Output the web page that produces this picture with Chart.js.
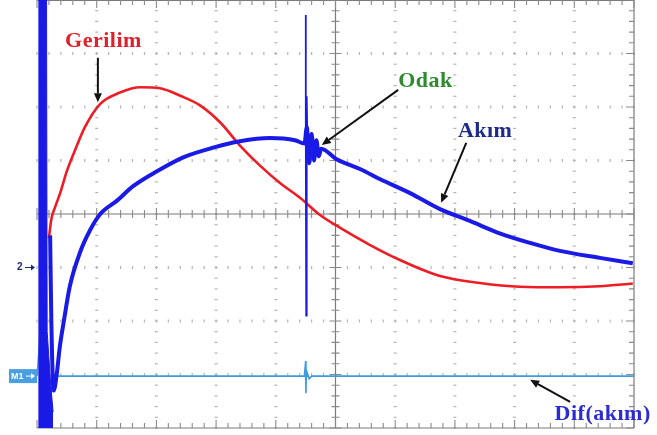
<!DOCTYPE html>
<html><head><meta charset="utf-8">
<script src="https://cdn.jsdelivr.net/npm/chart.js@4/dist/chart.umd.min.js"></script>
<style>html,body{margin:0;padding:0;background:#fff;}#wrap{width:657px;height:435px;}</style>
</head><body><div id="wrap"><canvas id="c" width="657" height="435"></canvas></div>
<script>
// Horizontal position in screen divisions (0..10), vertical in divisions (-4..4)
const gerilimX = [0.20,0.24,0.30,0.385,0.50,0.64,0.80,1.06,1.39,1.73,2.06,2.40,2.73,3.07,3.40,3.74,4.07,4.41,4.74,5.08,5.58,6.08,6.75,7.42,8.09,8.76,9.43,9.98];
const gerilimY = [-0.45,-0.10,0.12,0.38,0.80,1.20,1.62,2.06,2.27,2.37,2.35,2.21,2.03,1.71,1.28,0.90,0.58,0.30,-0.02,-0.26,-0.58,-0.86,-1.16,-1.29,-1.36,-1.37,-1.35,-1.30];

const akimX = [0.22,0.24,0.28,0.33,0.38,0.45,0.55,0.72,0.89,1.06,1.34,1.61,2.01,2.45,2.95,3.40,3.90,4.32,4.48,4.52,4.56,4.60,4.64,4.68,4.72,4.76,5.01,5.41,5.75,6.25,6.75,7.25,7.75,8.26,8.76,9.43,9.98];
const akimY = [-0.40,-2.00,-3.30,-3.00,-2.50,-2.00,-1.35,-0.72,-0.30,0.00,0.25,0.52,0.80,1.06,1.24,1.36,1.42,1.38,1.32,1.62,0.95,1.50,1.00,1.38,1.08,1.22,1.03,0.84,0.65,0.39,0.09,-0.13,-0.36,-0.54,-0.69,-0.82,-0.92];

// focus (Odak) discharge spike on the current channel
const spikeX = [4.49,4.500,4.505,4.510,4.515,4.520,4.530];
const spikeY = [1.32,3.72,1.40,-1.90,1.10,2.20,1.30];

// start-up burst envelope of the current channel (top edge, filled down to the screen bottom)
const burstX = [0.02,0.16,0.17,0.20,0.23,0.27];
const burstY = [4.1,4.1,-2.2,-2.7,-3.2,-3.7];
const burstFloor = -4.1;

const difX = [0.00,0.05,0.10,0.15,0.20,0.27,4.48,4.50,4.505,4.51,4.52,4.56,4.60,10.0];
const difY = [-3.03,-2.3,-3.8,-2.5,-3.7,-3.03,-3.03,-2.75,-3.35,-3.03,-2.95,-3.08,-3.03,-3.03];

const labels = ["Gerilim","Odak","Akım","Dif(akım)"];
const labelX = [0.47,6.05,7.05,8.67];
const labelY = [3.12,2.37,1.44,-3.85];
const labelColors = ["#e0202a","#2e8b2e","#1c2a8c","#2b2bd6"];
// arrows: from (x1,y1) to head (x2,y2)
const arrowX1 = [1.02,6.05,7.19,8.93];
const arrowY1 = [2.92,2.32,1.33,-3.51];
const arrowX2 = [1.02,4.77,6.77,8.26];
const arrowY2 = [2.09,1.29,0.21,-3.10];

const xMajors = [0,1,2,3,4,5,6,7,8,9,10];
const yMajors = [-4,-3,-2,-1,0,1,2,3,4];

function pts(xs, ys){ return xs.map((x,i)=>({x:x,y:ys[i]})); }

const graticule = {
  id:'graticule',
  beforeDatasetsDraw(chart){
    const {ctx, chartArea:a, scales:{x,y}} = chart;
    ctx.save();
    ctx.fillStyle = '#b4b4b4';
    xMajors.forEach(m=>{
      if(m===0||m===5||m===10) return;
      const px = x.getPixelForValue(m);
      for(let v=-4; v<=4.001; v+=0.2){
        const py = y.getPixelForValue(v);
        ctx.fillRect(px-1.5, py-0.6, 3, 1.2);
      }
    });
    yMajors.forEach(m=>{
      if(m===0||m===-4||m===4) return;
      const py = y.getPixelForValue(m);
      for(let v=0; v<=10.001; v+=0.2){
        const px = x.getPixelForValue(v);
        ctx.fillRect(px-0.6, py-1.5, 1.2, 3);
      }
    });
    ctx.strokeStyle = '#7a7a7a';
    ctx.lineWidth = 1.2;
    const cx = x.getPixelForValue(5), cy = y.getPixelForValue(0);
    ctx.beginPath();
    ctx.moveTo(a.left, cy); ctx.lineTo(a.right, cy);
    ctx.moveTo(cx, a.top); ctx.lineTo(cx, a.bottom);
    ctx.moveTo(a.left, a.top+0.5); ctx.lineTo(a.right, a.top+0.5);
    ctx.moveTo(a.left, a.bottom); ctx.lineTo(a.right, a.bottom);
    ctx.moveTo(a.right, a.top); ctx.lineTo(a.right, a.bottom);
    ctx.stroke();
    ctx.strokeStyle = '#8a8a8a';
    ctx.lineWidth = 1.1;
    ctx.beginPath();
    for(let i=0;i<=50;i++){
      const v = i*0.2, px = x.getPixelForValue(v);
      const major = i%5===0;
      const L = major?6:4;
      ctx.moveTo(px, cy-L); ctx.lineTo(px, cy+L);
      ctx.moveTo(px, a.top); ctx.lineTo(px, a.top+(major?8:5));
      ctx.moveTo(px, a.bottom); ctx.lineTo(px, a.bottom-(major?8:5));
    }
    for(let i=0;i<=40;i++){
      const v = -4+i*0.2, py = y.getPixelForValue(v);
      const major = i%5===0;
      const L = major?6:4;
      ctx.moveTo(cx-L, py); ctx.lineTo(cx+L, py);
      ctx.moveTo(a.right, py); ctx.lineTo(a.right-(major?8:5), py);
    }
    ctx.stroke();
    ctx.restore();
  },
  afterDatasetsDraw(chart){
    const {ctx, scales:{x,y}} = chart;
    ctx.save();
    const y2 = y.getPixelForValue(-1.0);
    ctx.fillStyle = '#1c2a6c';
    ctx.font = 'bold 10px "Liberation Sans"';
    ctx.textBaseline = 'middle';
    ctx.fillText('2', 17, y2);
    ctx.strokeStyle = '#1c2a6c'; ctx.lineWidth = 1;
    ctx.beginPath(); ctx.moveTo(25,y2); ctx.lineTo(34,y2); ctx.stroke();
    ctx.beginPath(); ctx.moveTo(35,y2); ctx.lineTo(31,y2-3); ctx.lineTo(31,y2+3); ctx.closePath(); ctx.fill();
    const ym = y.getPixelForValue(-3.03);
    ctx.fillStyle = '#4a9fe0';
    ctx.fillRect(9, ym-7, 28, 14);
    ctx.fillStyle = '#ffffff';
    ctx.font = 'bold 9px "Liberation Sans"';
    ctx.fillText('M1', 11, ym+0.5);
    ctx.strokeStyle = '#ffffff';
    ctx.beginPath(); ctx.moveTo(26,ym); ctx.lineTo(34,ym); ctx.stroke();
    ctx.beginPath(); ctx.moveTo(35,ym); ctx.lineTo(31,ym-3); ctx.lineTo(31,ym+3); ctx.closePath(); ctx.fill();
    ctx.textBaseline = 'alphabetic';
    ctx.font = 'bold 22px "Liberation Serif"';
    try { ctx.letterSpacing = '0.5px'; } catch(e) {}
    labels.forEach((t,i)=>{
      ctx.fillStyle = labelColors[i];
      ctx.fillText(t, x.getPixelForValue(labelX[i]), y.getPixelForValue(labelY[i]));
    });
    try { ctx.letterSpacing = '0px'; } catch(e) {}
    ctx.strokeStyle = '#111'; ctx.fillStyle = '#111'; ctx.lineWidth = 2;
    arrowX1.forEach((_,i)=>{
      const x1 = x.getPixelForValue(arrowX1[i]), y1 = y.getPixelForValue(arrowY1[i]);
      const x2 = x.getPixelForValue(arrowX2[i]), y2b = y.getPixelForValue(arrowY2[i]);
      const ang = Math.atan2(y2b-y1, x2-x1);
      const hl = 9, hw = 4;
      const bx = x2 - hl*Math.cos(ang), by = y2b - hl*Math.sin(ang);
      ctx.beginPath(); ctx.moveTo(x1,y1); ctx.lineTo(bx,by); ctx.stroke();
      ctx.beginPath();
      ctx.moveTo(x2,y2b);
      ctx.lineTo(bx + hw*Math.sin(ang), by - hw*Math.cos(ang));
      ctx.lineTo(bx - hw*Math.sin(ang), by + hw*Math.cos(ang));
      ctx.closePath(); ctx.fill();
    });
    ctx.restore();
  }
};

new Chart(document.getElementById('c'), {
  type:'line',
  data:{datasets:[
    {label:'Dif(akım)', data:pts(difX,difY), borderColor:'#3d9be0', borderWidth:1.6, pointRadius:0, tension:0, clip:false, fill:false, order:5},
    {label:'Gerilim', data:pts(gerilimX,gerilimY), borderColor:'#ee1c24', borderWidth:2.6, pointRadius:0, cubicInterpolationMode:'monotone', fill:false, order:4},
    {label:'Akım', data:pts(akimX,akimY), borderColor:'#1a1ae6', borderWidth:4, pointRadius:0, cubicInterpolationMode:'monotone', fill:false, order:3},
    {label:'Odak spike', data:pts(spikeX,spikeY), borderColor:'#1a1ae6', borderWidth:1.8, pointRadius:0, tension:0, fill:false, order:2},
    {label:'burst', data:pts(burstX,burstY), borderColor:'#1a1ae6', backgroundColor:'#1a1ae6', borderWidth:1, pointRadius:0, tension:0, fill:{value:burstFloor}, order:1}
  ]},
  options:{
    responsive:false, animation:false,
    layout:{padding:{left:37,right:23,top:0,bottom:7}},
    plugins:{legend:{display:false}, tooltip:{enabled:false}, filler:{drawTime:'beforeDatasetDraw'}},
    scales:{
      x:{type:'linear', min:0, max:10, display:false},
      y:{type:'linear', min:-4, max:4, display:false}
    }
  },
  plugins:[graticule]
});
</script></body></html>
